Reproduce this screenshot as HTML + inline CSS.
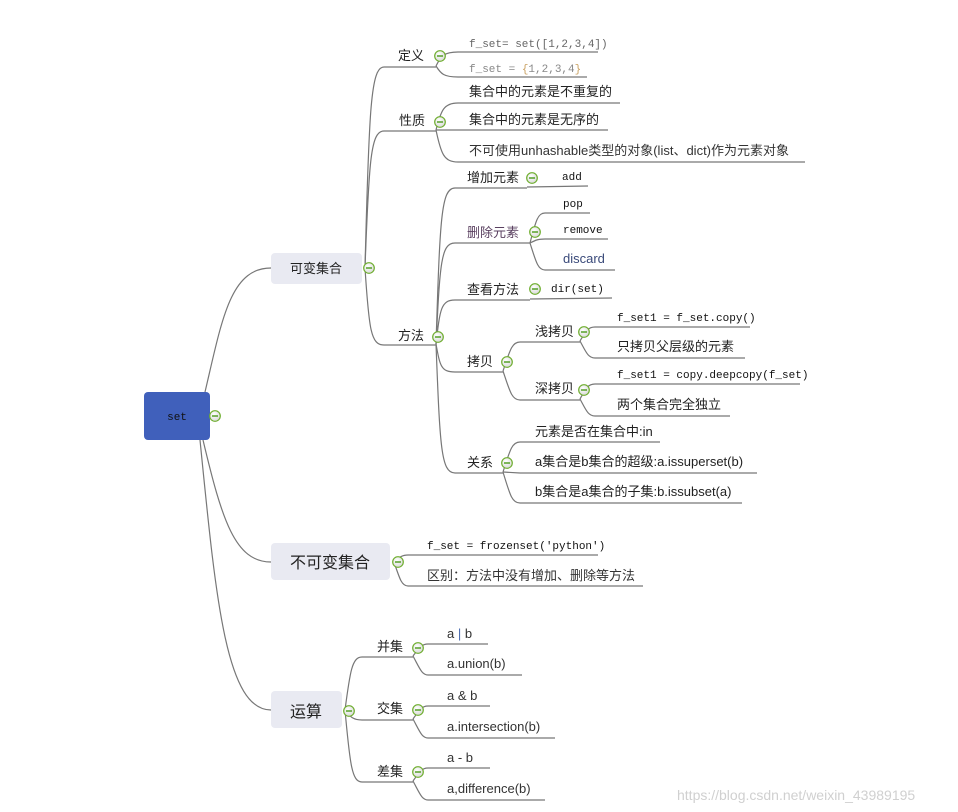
<!DOCTYPE html>
<html><head><meta charset="utf-8"><style>
html,body{margin:0;padding:0;background:#fff;}
svg{display:block;}
text{font-family:"Liberation Sans","Noto Sans CJK SC",sans-serif;font-size:13px;fill:#222;}
.m{font-family:"Liberation Mono","Noto Sans CJK SC",monospace;font-size:11px;fill:#111;}
.g{fill:#666;}
path.c{fill:none;stroke:#777;stroke-width:1.2;}
line.u{stroke:#777;stroke-width:1.2;}
</style></head><body>
<svg width="958" height="812" viewBox="0 0 958 812" xmlns="http://www.w3.org/2000/svg">
<defs>
<radialGradient id="cg" cx="40%" cy="35%" r="70%"><stop offset="0" stop-color="#fff"/><stop offset="1" stop-color="#d8d8d8"/></radialGradient>
<g id="ci"><circle r="5.3" fill="url(#cg)" stroke="#6fae2f" stroke-width="1.2"/><line x1="-3" y1="0" x2="3" y2="0" stroke="#4a9a1a" stroke-width="1.4"/></g>
</defs>

<!-- root connections -->
<path class="c" d="M205,392 C222,320 230,268 271,268"/>
<path class="c" d="M203,440 C222,520 235,562 271,562"/>
<path class="c" d="M200,440 C216,600 226,710 271,710"/>

<!-- boxes -->
<rect x="144" y="392" width="66" height="48" rx="4" fill="#4060bb"/>
<text x="177" y="420" text-anchor="middle" class="m" style="fill:#111">set</text>
<rect x="271" y="253" width="91" height="31" rx="4" fill="#e9eaf2"/>
<text x="316" y="273" text-anchor="middle">可变集合</text>
<rect x="271" y="543" width="119" height="37" rx="4" fill="#e9eaf2"/>
<text x="330" y="568" text-anchor="middle" style="font-size:16px">不可变集合</text>
<rect x="271" y="691" width="71" height="37" rx="4" fill="#e9eaf2"/>
<text x="306" y="717" text-anchor="middle" style="font-size:16px">运算</text>

<!-- 可变集合 -->
<path class="c" d="M365,268 C369,107 371,67 384,67"/>
<path class="c" d="M365,268 C369,158 371,131 384,131"/>
<path class="c" d="M365,268 C369,330 371,345 384,345"/>
<line class="u" x1="384" y1="67" x2="436" y2="67"/>
<line class="u" x1="384" y1="131" x2="436" y2="131"/>
<line class="u" x1="384" y1="345" x2="436" y2="345"/>
<text x="398" y="60">定义</text>
<text x="399" y="125">性质</text>
<text x="398" y="340">方法</text>

<!-- 定义 -->
<path class="c" d="M436,66 C441,56 444,52 458,52"/>
<path class="c" d="M436,66 C441,74 444,77 458,77"/>
<line class="u" x1="458" y1="52" x2="598" y2="52"/>
<line class="u" x1="458" y1="77" x2="587" y2="77"/>
<text x="469" y="47" class="m g">f_set= set([1,2,3,4])</text>
<text x="469" y="72" class="m" style="fill:#888">f_set = <tspan style="fill:#c9a060">{</tspan>1,2,3,4<tspan style="fill:#c9a060">}</tspan></text>

<!-- 性质 -->
<path class="c" d="M436,130 C441,110 444,103 458,103"/>
<path class="c" d="M436,130 L458,130"/>
<path class="c" d="M436,130 C441,154 444,162 458,162"/>
<line class="u" x1="458" y1="103" x2="620" y2="103"/>
<line class="u" x1="458" y1="130" x2="608" y2="130"/>
<line class="u" x1="458" y1="162" x2="805" y2="162"/>
<text x="469" y="96">集合中的元素是不重复的</text>
<text x="469" y="124">集合中的元素是无序的</text>
<text x="469" y="155" style="fill:#333">不可使用unhashable类型的对象(list、dict)作为元素对象</text>

<!-- 方法 -->
<path class="c" d="M436,344 C440,219 441,188 455,188"/>
<path class="c" d="M436,344 C440,263 441,243 455,243"/>
<path class="c" d="M436,344 C440,309 441,300 455,300"/>
<path class="c" d="M436,344 C440,366 441,372 455,372"/>
<path class="c" d="M436,344 C440,447 441,473 455,473"/>
<line class="u" x1="455" y1="188" x2="527" y2="188"/>
<line class="u" x1="455" y1="243" x2="530" y2="243"/>
<line class="u" x1="455" y1="300" x2="530" y2="300"/>
<line class="u" x1="455" y1="372" x2="503" y2="372"/>
<line class="u" x1="455" y1="473" x2="503" y2="473"/>
<text x="467" y="182">增加元素</text>
<text x="467" y="237" style="fill:#5a4060">删除元素</text>
<text x="467" y="294">查看方法</text>
<text x="467" y="366">拷贝</text>
<text x="467" y="467">关系</text>

<line class="u" x1="527" y1="187" x2="588" y2="186"/>
<text x="562" y="180" class="m">add</text>

<path class="c" d="M530,243 C536,220 538,213 545,213"/>
<path class="c" d="M530,243 C536,240 538,239 545,239"/>
<path class="c" d="M530,243 C536,262 538,270 545,270"/>
<line class="u" x1="545" y1="213" x2="590" y2="213"/>
<line class="u" x1="545" y1="239" x2="608" y2="239"/>
<line class="u" x1="545" y1="270" x2="615" y2="270"/>
<text x="563" y="207" class="m">pop</text>
<text x="563" y="233" class="m">remove</text>
<text x="563" y="263" style="fill:#3a4a7a">discard</text>

<line class="u" x1="530" y1="299" x2="612" y2="298"/>
<text x="551" y="292" class="m">dir(set)</text>

<path class="c" d="M503,371 C510,350 512,342 520,342"/>
<path class="c" d="M503,371 C510,392 512,400 520,400"/>
<line class="u" x1="520" y1="342" x2="580" y2="342"/>
<line class="u" x1="520" y1="400" x2="580" y2="400"/>
<text x="535" y="336">浅拷贝</text>
<text x="535" y="393">深拷贝</text>

<path class="c" d="M580,341 C586,331 588,327 595,327"/>
<path class="c" d="M580,341 C586,352 588,358 595,358"/>
<path class="c" d="M580,399 C586,388 588,384 595,384"/>
<path class="c" d="M580,399 C586,410 588,416 595,416"/>
<line class="u" x1="595" y1="327" x2="750" y2="327"/>
<line class="u" x1="595" y1="358" x2="745" y2="358"/>
<line class="u" x1="595" y1="384" x2="800" y2="384"/>
<line class="u" x1="595" y1="416" x2="730" y2="416"/>
<text x="617" y="321" class="m">f_set1 = f_set.copy()</text>
<text x="617" y="351">只拷贝父层级的元素</text>
<text x="617" y="378" class="m">f_set1 = copy.deepcopy(f_set)</text>
<text x="617" y="409">两个集合完全独立</text>

<path class="c" d="M503,472 C510,450 512,442 520,442"/>
<path class="c" d="M503,472 L520,473"/>
<path class="c" d="M503,472 C510,495 512,503 520,503"/>
<line class="u" x1="520" y1="442" x2="660" y2="442"/>
<line class="u" x1="520" y1="473" x2="757" y2="473"/>
<line class="u" x1="520" y1="503" x2="742" y2="503"/>
<text x="535" y="436">元素是否在集合中:in</text>
<text x="535" y="466">a集合是b集合的超级:a.issuperset(b)</text>
<text x="535" y="496">b集合是a集合的子集:b.issubset(a)</text>

<!-- 不可变集合 -->
<path class="c" d="M394,562 C400,557 402,555 408,555"/>
<path class="c" d="M394,562 C400,580 402,586 408,586"/>
<line class="u" x1="408" y1="555" x2="598" y2="555"/>
<line class="u" x1="408" y1="586" x2="643" y2="586"/>
<text x="427" y="549" class="m">f_set = frozenset('python')</text>
<text x="427" y="580" style="fill:#333">区别：方法中没有增加、删除等方法</text>

<!-- 运算 -->
<path class="c" d="M345,710 C350,672 352,657 362,657"/>
<path class="c" d="M345,710 C350,716 352,720 362,720"/>
<path class="c" d="M345,710 C350,765 352,782 362,782"/>
<line class="u" x1="362" y1="657" x2="413" y2="657"/>
<line class="u" x1="362" y1="720" x2="413" y2="720"/>
<line class="u" x1="362" y1="782" x2="413" y2="782"/>
<text x="377" y="651">并集</text>
<text x="377" y="713">交集</text>
<text x="377" y="776">差集</text>

<path class="c" d="M413,656 C420,647 422,644 428,644"/>
<path class="c" d="M413,656 C420,669 422,675 428,675"/>
<path class="c" d="M413,719 C420,709 422,706 428,706"/>
<path class="c" d="M413,719 C420,732 422,738 428,738"/>
<path class="c" d="M413,781 C420,771 422,768 428,768"/>
<path class="c" d="M413,781 C420,794 422,800 428,800"/>
<line class="u" x1="428" y1="644" x2="488" y2="644"/>
<line class="u" x1="428" y1="675" x2="522" y2="675"/>
<line class="u" x1="428" y1="706" x2="490" y2="706"/>
<line class="u" x1="428" y1="738" x2="555" y2="738"/>
<line class="u" x1="428" y1="768" x2="490" y2="768"/>
<line class="u" x1="428" y1="800" x2="545" y2="800"/>
<text x="447" y="638" style="fill:#333">a <tspan style="fill:#4a6ab0">|</tspan> b</text>
<text x="447" y="668" style="fill:#333">a.union(b)</text>
<text x="447" y="700" style="fill:#333">a &amp; b</text>
<text x="447" y="731" style="fill:#333">a.intersection(b)</text>
<text x="447" y="762" style="fill:#333">a - b</text>
<text x="447" y="793" style="fill:#333">a,difference(b)</text>

<!-- collapse circles -->
<use href="#ci" x="215" y="416"/>
<use href="#ci" x="369" y="268"/>
<use href="#ci" x="440" y="56"/>
<use href="#ci" x="440" y="122"/>
<use href="#ci" x="438" y="337"/>
<use href="#ci" x="532" y="178"/>
<use href="#ci" x="535" y="232"/>
<use href="#ci" x="535" y="289"/>
<use href="#ci" x="507" y="362"/>
<use href="#ci" x="584" y="332"/>
<use href="#ci" x="584" y="390"/>
<use href="#ci" x="507" y="463"/>
<use href="#ci" x="398" y="562"/>
<use href="#ci" x="349" y="711"/>
<use href="#ci" x="418" y="648"/>
<use href="#ci" x="418" y="710"/>
<use href="#ci" x="418" y="772"/>

<text x="677" y="800" style="fill:#d0d0d0;font-size:14px">https://blog.csdn.net/weixin_43989195</text>
</svg>
</body></html>
